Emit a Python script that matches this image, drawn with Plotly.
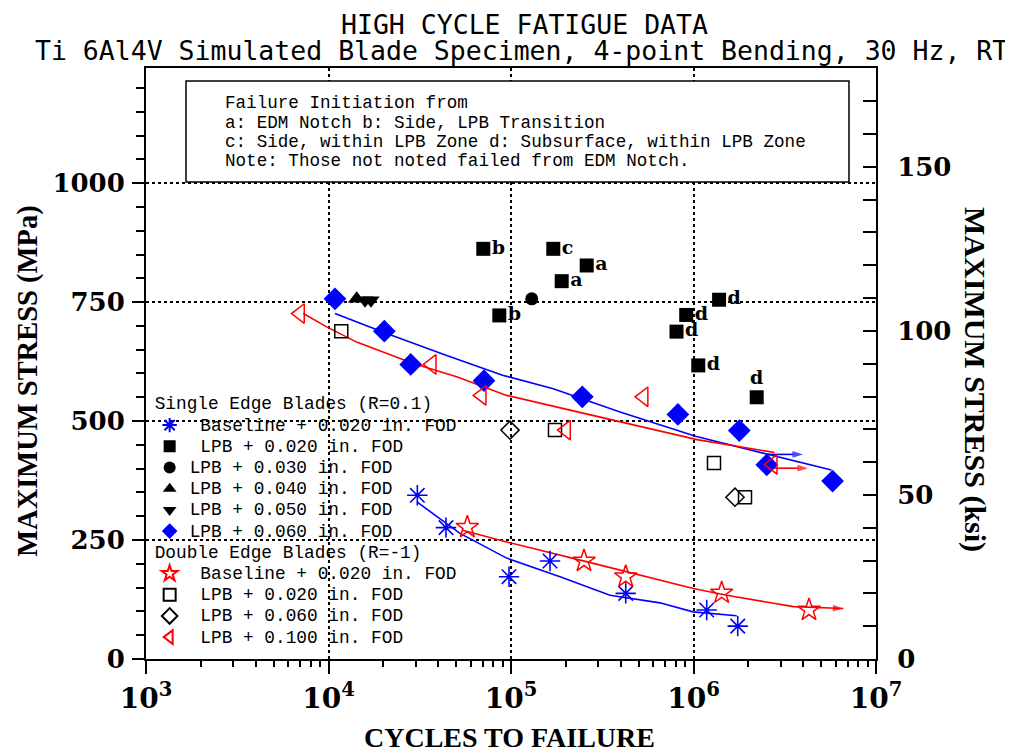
import numpy as np
import plotly.graph_objects as go

# ---------------- data (cycles, MPa) ----------------
# Single Edge Blades (R=0.1)
se_base_n = [30670, 44040, 97500, 163600, 425200, 1181000, 1747000]
se_base_s = [344, 276, 173, 206, 138, 103, 69]
se_base_fit_n = [30540, 52550, 94700, 185600, 348700, 655300, 993800, 1725000]
se_base_fit_s = [330, 264, 212, 173, 134, 118, 99, 91]

se_lpb020_n = [70500, 170500, 259900, 189600, 86290, 1381000, 912000, 807000, 1062000, 2220000]
se_lpb020_s = [862, 862, 827, 794, 722, 755, 723, 688, 617, 550]
se_lpb020_code = ["b", "c", "a", "a", "b", "d", "d", "d", "d", "d"]
se_lpb020_codepos = ["middle right"] * 9 + ["top center"]

se_lpb030_n = [129900]
se_lpb030_s = [757]
se_lpb040_n = [14270]
se_lpb040_s = [757]
se_lpb050_n = [15850, 17090]
se_lpb050_s = [754, 754]

se_lpb060_n = [10850, 20220, 28210, 71140, 245900, 821200, 1782000, 2521000, 5783000]
se_lpb060_s = [757, 689, 619, 585, 551, 514, 480, 408, 374]
se_lpb060_fit_n = [10850, 20840, 44440, 90760, 170500, 395800, 1027000, 2553000, 5704000]
se_lpb060_fit_s = [726, 684, 638, 596, 568, 519, 468, 431, 397]
se_runout_n = [2550000, 3980000]
se_runout_s = [430, 430]

# Double Edge Blades (R=-1)
de_base_n = [57620, 251200, 425200, 1427000, 4295000]
de_base_s = [277, 206, 173, 139, 103]
de_base_fit_n = [53700, 94700, 282500, 997500, 1520000, 3523000, 6620000]
de_base_fit_s = [271, 246, 201, 148, 134, 110, 106]

de_lpb020_n = [11750, 174200, 1295000, 1915000]
de_lpb020_s = [689, 481, 412, 340]
de_lpb060_n = [98740, 1688000]
de_lpb060_s = [481, 340]
de_lpb100_n = [6980, 36780, 69100, 200200, 532900, 2719000]
de_lpb100_s = [726, 619, 554, 481, 551, 409]
de_lpb100_fit_n = [7276, 9775, 14270, 29150, 50410, 94700, 210600, 395800, 1045000, 2778000]
de_lpb100_fit_s = [726, 698, 666, 621, 593, 554, 523, 498, 461, 434]
de_runout_n = [2778000, 4240000]
de_runout_s = [401, 401]

MPA_PER_KSI = 6.895
y_max_mpa = 1242
x_decades = [3, 4, 5, 6, 7]
y_ticks_mpa = [0, 250, 500, 750, 1000]
y_ticks_ksi = [0, 50, 100, 150]

title1 = "HIGH CYCLE FATIGUE DATA"
title2 = "Ti 6Al4V Simulated Blade Specimen, 4-point Bending, 30 Hz, RT"
note_lines = [
    "Failure Initiation from",
    "a: EDM Notch b: Side, LPB Transition",
    "c: Side, within LPB Zone d: Subsurface, within LPB Zone",
    "Note: Those not noted failed from EDM Notch.",
]

BLUE = "#0000ff"
RED = "#ff0000"
BLK = "#000000"
LEG_FONT = dict(family="Liberation Mono", size=14, color=BLK)
NB = "\u00a0"

def big(t):
    return f'<span style="font-size:17.8px">{t}</span>'

fig = go.Figure()

def fit(n, s, color, arrow=False):
    k = len(n)
    mk = dict(size=[0] * (k - 1) + [11 if arrow else 0], symbol="arrow",
              angleref="previous", color=color, line=dict(width=0))
    fig.add_trace(go.Scatter(x=n, y=s, mode="lines+markers", line=dict(color=color, width=1.6),
                             marker=mk, showlegend=False, hoverinfo="skip"))

fit(se_base_fit_n, se_base_fit_s, BLUE)
fit(se_lpb060_fit_n, se_lpb060_fit_s, BLUE)
fit(de_base_fit_n, de_base_fit_s, RED, arrow=True)
fit(de_lpb100_fit_n, de_lpb100_fit_s, RED)
fit(se_runout_n, se_runout_s, BLUE, arrow=True)
fit(de_runout_n, de_runout_s, RED, arrow=True)

def pts(n, s, name, symbol, size, color, group, gtitle=None, open_=False, lw=1.5):
    if open_:
        marker = dict(symbol=symbol, size=size, color=color, line=dict(color=color, width=lw))
    else:
        marker = dict(symbol=symbol, size=size, color=color, line=dict(color=color, width=0))
    tr = dict(x=n, y=s, mode="markers", name=big(name), marker=marker, legendgroup=group)
    if gtitle:
        tr["legendgrouptitle"] = dict(text=big(gtitle), font=LEG_FONT)
    fig.add_trace(go.Scatter(**tr))

g1 = "Single Edge Blades (R=0.1)"
g2 = "Double Edge Blades (R=-1)"
pts(se_base_n, se_base_s, NB + "Baseline + 0.020 in. FOD", "asterisk-open", 17, BLUE, "se", g1, open_=True, lw=1.6)
pts(se_lpb020_n, se_lpb020_s, NB + "LPB + 0.020 in. FOD", "square", 14, BLK, "se")
pts(se_lpb030_n, se_lpb030_s, "LPB + 0.030 in. FOD", "circle", 13, BLK, "se")
pts(se_lpb040_n, se_lpb040_s, "LPB + 0.040 in. FOD", "triangle-up", 15, BLK, "se")
pts(se_lpb050_n, se_lpb050_s, "LPB + 0.050 in. FOD", "triangle-down", 15, BLK, "se")
pts(se_lpb060_n, se_lpb060_s, "LPB + 0.060 in. FOD", "diamond", 17.5, BLUE, "se")
pts(de_base_n, de_base_s, NB + "Baseline + 0.020 in. FOD", "star-open", 17, RED, "de", g2, open_=True)
pts(de_lpb020_n, de_lpb020_s, NB + "LPB + 0.020 in. FOD", "square-open", 13, BLK, "de", open_=True)
pts(de_lpb060_n, de_lpb060_s, NB + "LPB + 0.060 in. FOD", "diamond-open", 14, BLK, "de", open_=True)
pts(de_lpb100_n, de_lpb100_s, NB + "LPB + 0.100 in. FOD", "triangle-left-open", 17, RED, "de", open_=True)

# failure-initiation codes (invisible markers give the text its offset)
fig.add_trace(go.Scatter(x=se_lpb020_n, y=se_lpb020_s, mode="markers+text", text=se_lpb020_code,
                         textposition=se_lpb020_codepos,
                         marker=dict(size=12, opacity=0),
                         textfont=dict(family="DejaVu Serif", size=19, color=BLK, weight="bold"),
                         showlegend=False, hoverinfo="skip"))

# invisible traces carrying the ksi axis and the long major-tick MPa axis
fig.add_trace(go.Scatter(x=se_lpb060_n, y=[v / MPA_PER_KSI for v in se_lpb060_s], yaxis="y2",
                         mode="markers", marker=dict(opacity=0), showlegend=False, hoverinfo="skip"))
fig.add_trace(go.Scatter(x=se_lpb060_n, y=se_lpb060_s, yaxis="y3",
                         mode="markers", marker=dict(opacity=0), showlegend=False, hoverinfo="skip"))

tickfont = dict(family="DejaVu Serif", size=26, color=BLK, weight="bold")
minor_x = [m * 10 ** d for d in x_decades[:-1] for m in range(2, 10)]
all_y = list(range(0, 1250, 50))
all_y_text = [str(v) if v in y_ticks_mpa else "" for v in all_y]

fig.update_layout(
    width=1005, height=745,
    margin=dict(l=138, r=137, t=60, b=94),
    paper_bgcolor="white", plot_bgcolor="white",
    xaxis=dict(type="log", range=[3, 7], tickvals=[10 ** d for d in x_decades],
               ticktext=[f"10<sup>{d}</sup>" for d in x_decades],
               tickfont=dict(family="DejaVu Serif", size=28, color=BLK, weight="bold"),
               ticks="outside", ticklen=13, tickwidth=1.5, tickcolor=BLK,
               minor=dict(tickvals=minor_x, ticks="outside", ticklen=6, tickwidth=1.5, tickcolor=BLK, showgrid=False),
               showline=True, linecolor=BLK, linewidth=2, mirror=True,
               showgrid=True, gridcolor=BLK, griddash="dot", gridwidth=1.5, zeroline=False),
    yaxis=dict(range=[0, y_max_mpa], tickvals=all_y, ticktext=all_y_text, tickfont=tickfont,
               ticks="outside", ticklen=8, tickwidth=1.5, tickcolor=BLK, ticklabelstandoff=6,
               showline=True, linecolor=BLK, linewidth=2,
               showgrid=False, zeroline=False),
    yaxis3=dict(overlaying="y", side="left", range=[0, y_max_mpa], tickvals=y_ticks_mpa,
                showticklabels=False, ticks="outside", ticklen=13, tickwidth=1.5, tickcolor=BLK,
                showline=False, showgrid=True, gridcolor=BLK, griddash="dot", gridwidth=1.5, zeroline=False),
    yaxis2=dict(overlaying="y", side="right", range=[0, y_max_mpa / MPA_PER_KSI], tickvals=y_ticks_ksi,
                tickfont=tickfont, ticks="inside", ticklen=13, tickwidth=1.5, tickcolor=BLK,
                ticklabelstandoff=14,
                minor=dict(dtick=10, ticks="inside", ticklen=13, tickwidth=1.5, tickcolor=BLK, showgrid=False),
                showline=True, linecolor=BLK, linewidth=2, showgrid=False, zeroline=False),
    legend=dict(x=0.005, y=0.458, xanchor="left", yanchor="top", bgcolor="rgba(0,0,0,0)",
                font=LEG_FONT, tracegroupgap=0, traceorder="grouped", itemsizing="constant"),
    showlegend=True,
)

# note box
fig.add_shape(type="rect", xref="paper", yref="paper", x0=0.0548, x1=0.963, y0=0.807, y1=0.978,
              line=dict(color=BLK, width=1.5), fillcolor="white", layer="above")
note_y = [0.9408, 0.9069, 0.8748, 0.8426]
for txt, yy in zip(note_lines, note_y):
    fig.add_annotation(text=txt, xref="paper", yref="paper", x=0.1052, y=yy, xanchor="left",
                       yanchor="middle", showarrow=False,
                       font=dict(family="Liberation Mono", size=17.6, color=BLK))

# titles
fig.add_annotation(text=title1, xref="paper", yref="paper", x=0.519, y=1.0736, showarrow=False,
                   xanchor="center", yanchor="middle", font=dict(family="DejaVu Sans Mono", size=26.5, color=BLK))
fig.add_annotation(text=title2, xref="paper", yref="paper", x=0.515, y=1.029, showarrow=False,
                   xanchor="center", yanchor="middle", font=dict(family="DejaVu Sans Mono", size=26.5, color=BLK))

axfont = dict(family="Liberation Serif", size=28.5, color=BLK, weight="bold")
fig.add_annotation(text="MAXIMUM STRESS (MPa)", xref="paper", yref="paper", x=-0.1616, y=0.469,
                   textangle=-90, showarrow=False, xanchor="center", yanchor="middle", font=axfont)
fig.add_annotation(text="MAXIMUM STRESS (ksi)", xref="paper", yref="paper", x=1.1356, y=0.472,
                   textangle=90, showarrow=False, xanchor="center", yanchor="middle",
                   font=dict(family="Liberation Serif", size=30, color=BLK, weight="bold"))
fig.add_annotation(text="CYCLES TO FAILURE", xref="paper", yref="paper", x=0.4986, y=-0.133,
                   showarrow=False, xanchor="center", yanchor="middle",
                   font=dict(family="Liberation Serif", size=28, color=BLK, weight="bold"))

fig.write_html("out.html")
